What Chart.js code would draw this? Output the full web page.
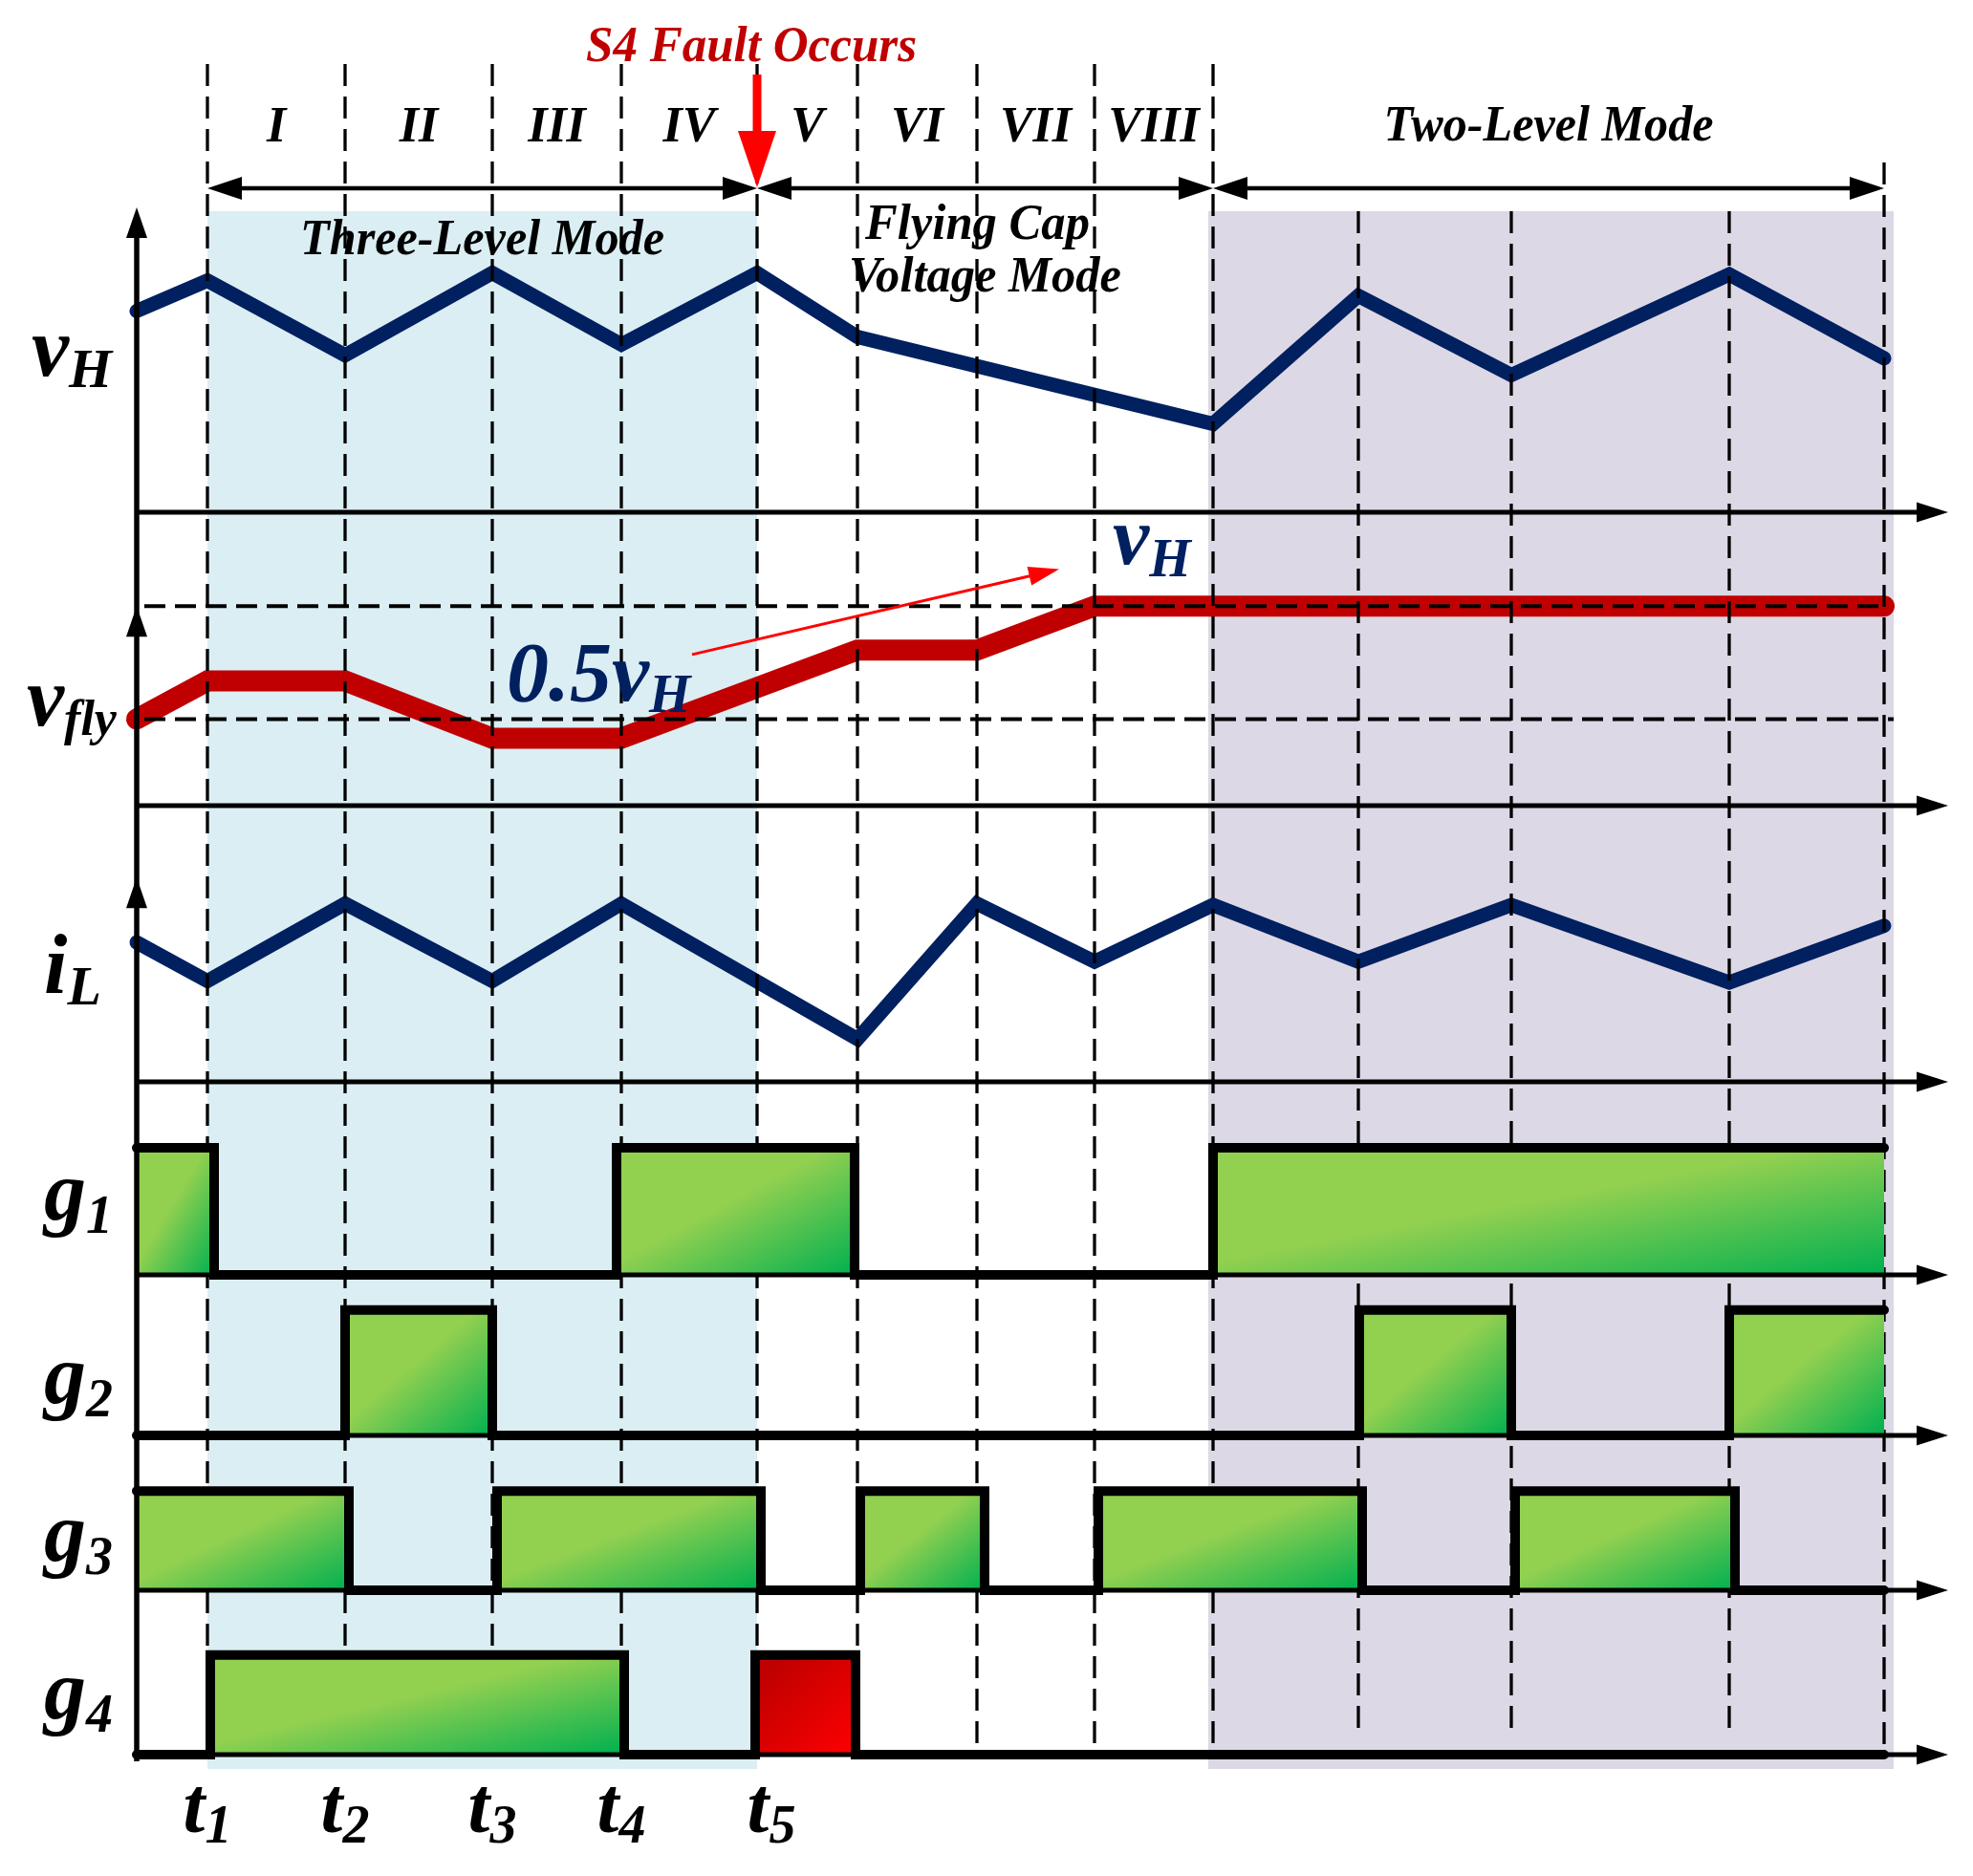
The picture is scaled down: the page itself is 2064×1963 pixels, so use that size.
<!DOCTYPE html>
<html>
<head>
<meta charset="utf-8">
<title>S4 fault timing diagram</title>
<script src="https://cdn.jsdelivr.net/npm/chart.js@4.4.1/dist/chart.umd.min.js"></script>
<style>
  html, body { margin: 0; padding: 0; background: #fff; }
  #wrap { width: 2064px; height: 1963px; }
</style>
</head>
<body>
<div id="wrap"><canvas id="diagram" width="2064" height="1963"></canvas></div>
<script>
// Time axis: t1..t5, then the stage boundaries of the flying cap and two-level modes
const boundaryTimes = [0.74, 2.18, 3.72, 5.07, 6.49, 7.54, 8.79, 10.02, 11.26, 12.78, 14.38, 16.66, 18.28];
const timeLabels = ['1', '2', '3', '4', '5'];
const stageLabels = ['I', 'II', 'III', 'IV', 'V', 'VI', 'VII', 'VIII'];
const rowLabels = [['v', 'H'], ['v', 'fly'], ['i', 'L'], ['g', '1'], ['g', '2'], ['g', '3'], ['g', '4']];

// v_H
const vHTimes = [0, 0.74, 2.18, 3.72, 5.07, 6.49, 7.54, 11.26, 12.78, 14.38, 16.66, 18.28];
const vHValues = [6.6, 7.6, 5.15, 7.85, 5.5, 7.85, 5.75, 2.9, 7.1, 4.5, 7.8, 5.05];

// v_fly and its two reference levels (v_H, 0.5 v_H)
const vFlyTimes = [0, 0.74, 2.18, 3.72, 5.07, 7.54, 8.79, 10.02, 18.28];
const vFlyValues = [2.95, 4.25, 4.25, 2.3, 2.3, 5.3, 5.3, 6.8, 6.8];
const vFlyLevels = [6.8, 2.95];

// i_L
const iLTimes = [0, 0.74, 2.18, 3.72, 5.07, 7.54, 8.79, 10.02, 11.26, 12.78, 14.38, 16.66, 18.28];
const iLValues = [5.05, 3.65, 6.45, 3.65, 6.45, 1.55, 6.45, 4.35, 6.4, 4.35, 6.4, 3.6, 5.65];

// gate signals, [on, off]
const g1Pulses = [[0, 0.81], [5.02, 7.51], [11.26, 18.28]];
const g2Pulses = [[2.18, 3.72], [12.79, 14.38], [16.66, 18.28]];
const g3Pulses = [[0, 2.22], [3.77, 6.53], [7.57, 8.87], [10.06, 12.82], [14.42, 16.72]];
const g4Pulses = [[0.77, 5.10]];
const g4FaultPulses = [[6.47, 7.52]];
const gateEnd = 18.28;

const NAVY = '#002060';
const GREEN = ['#92D050', '#00B050'];
const RED = ['#C00000', '#FF0000'];

function font(size) {
  return 'bold italic ' + size + 'px "Liberation Serif", "Times New Roman", serif';
}

function toPoints(times, values) {
  return times.map((t, i) => ({ x: t, y: values[i] }));
}

// black outline of a gate signal
function gateWave(pulses) {
  const all = pulses.slice().sort((a, b) => a[0] - b[0]);
  const pts = [];
  if (all[0][0] > 0) pts.push({ x: 0, y: 0 });
  all.forEach(([on, off]) => {
    if (on > 0) pts.push({ x: on, y: 0 });
    pts.push({ x: on, y: 1 });
    pts.push({ x: off, y: 1 });
    if (off < gateEnd) pts.push({ x: off, y: 0 });
  });
  if (all[all.length - 1][1] < gateEnd) pts.push({ x: gateEnd, y: 0 });
  return pts;
}

// one gradient per pulse, light at top-left, dark at bottom-right
function pulseFill(colors, midStop) {
  return (c) => {
    const chart = c.chart, ds = c.dataset;
    if (!chart.chartArea || !ds) return colors[0];
    const xs = chart.scales.x, ys = chart.scales[ds.yAxisID];
    const x0 = xs.getPixelForValue(ds.data[0].x), x1 = xs.getPixelForValue(ds.data[2].x);
    const yTop = ys.getPixelForValue(1), yBot = ys.getPixelForValue(0);
    const w = x1 - x0, h = yBot - yTop, k = 2 * w * h / (w * w + h * h);
    const g = chart.ctx.createLinearGradient(x0, yTop, x0 + h * k, yTop + w * k);
    g.addColorStop(0, colors[0]);
    g.addColorStop(midStop, colors[0]);
    g.addColorStop(1, colors[1]);
    return g;
  };
}

const datasets = [
  { label: 'vH', data: toPoints(vHTimes, vHValues), yAxisID: 'yVH', borderColor: NAVY, borderWidth: 15, order: 42 },
  { label: 'vfly', data: toPoints(vFlyTimes, vFlyValues), yAxisID: 'yFly', borderColor: '#C00000', borderWidth: 22, order: 43 },
  { label: 'iL', data: toPoints(iLTimes, iLValues), yAxisID: 'yIL', borderColor: NAVY, borderWidth: 15, order: 41 }
];

const gates = [
  { id: 'yG1', pulses: g1Pulses, faults: [] },
  { id: 'yG2', pulses: g2Pulses, faults: [] },
  { id: 'yG3', pulses: g3Pulses, faults: [] },
  { id: 'yG4', pulses: g4Pulses, faults: g4FaultPulses }
];

gates.forEach((g) => {
  const addFill = (p, colors, stop) => datasets.push({
    label: 'fill', yAxisID: g.id, order: 20, fill: 'origin', borderWidth: 0, borderColor: 'rgba(0,0,0,0)',
    data: [{ x: p[0], y: 0 }, { x: p[0], y: 1 }, { x: p[1], y: 1 }, { x: p[1], y: 0 }],
    backgroundColor: pulseFill(colors, stop)
  });
  g.pulses.forEach((p) => addFill(p, GREEN, 0.45));
  g.faults.forEach((p) => addFill(p, RED, 0.15));
  datasets.push({
    label: 'gate', yAxisID: g.id, order: 10, borderColor: '#000', borderWidth: 10,
    data: gateWave(g.pulses.concat(g.faults))
  });
});

function arrowHead(ctx, x, y, angle, len, width, color) {
  ctx.save();
  ctx.translate(x, y);
  ctx.rotate(angle);
  ctx.beginPath();
  ctx.moveTo(0, 0);
  ctx.lineTo(-len, -width / 2);
  ctx.lineTo(-len, width / 2);
  ctx.closePath();
  ctx.fillStyle = color;
  ctx.fill();
  ctx.restore();
}

function fitText(ctx, text, cx, baseline, size, color, width) {
  ctx.save();
  ctx.font = font(size);
  ctx.fillStyle = color;
  ctx.textAlign = 'center';
  ctx.textBaseline = 'alphabetic';
  const natural = ctx.measureText(text).width;
  ctx.translate(cx, baseline);
  ctx.scale(width ? width / natural : 1, 1);
  ctx.fillText(text, 0, 0);
  ctx.restore();
}

function subText(ctx, main, sub, x, baseline, mainSize, subSize, drop, color) {
  ctx.save();
  ctx.fillStyle = color;
  ctx.textAlign = 'left';
  ctx.textBaseline = 'alphabetic';
  ctx.font = font(mainSize);
  ctx.fillText(main, x, baseline);
  const w = ctx.measureText(main).width;
  ctx.font = font(subSize);
  ctx.fillText(sub, x + w, baseline + drop);
  ctx.restore();
}

function subWidth(ctx, main, sub, mainSize, subSize) {
  ctx.save();
  ctx.font = font(mainSize);
  let w = ctx.measureText(main).width;
  ctx.font = font(subSize);
  w += ctx.measureText(sub).width;
  ctx.restore();
  return w;
}

function drawGuides(chart) {
  const { ctx } = chart;
  const xs = chart.scales.x;
  const yBottom = chart.scales.yG4.getPixelForValue(0);
  ctx.save();
  ctx.strokeStyle = '#000';
  ctx.lineWidth = 3.3;
  ctx.setLineDash([23, 11]);
  boundaryTimes.forEach((t, i) => {
    const x = Math.round(xs.getPixelForValue(t));
    let top = 67, bottom = yBottom;
    if (i >= 9 && i <= 11) { top = 221; bottom = yBottom - 21; }
    if (i === 12) top = 170;
    ctx.beginPath();
    ctx.moveTo(x, top);
    ctx.lineTo(x, bottom);
    ctx.stroke();
  });
  const yf = chart.scales.yFly;
  ctx.lineWidth = 4;
  ctx.setLineDash([22, 10]);
  vFlyLevels.forEach((v, i) => {
    const y = yf.getPixelForValue(v);
    ctx.beginPath();
    ctx.moveTo(xs.getPixelForValue(0) + 8, y);
    ctx.lineTo(xs.getPixelForValue(gateEnd) + i * 10, y);
    ctx.stroke();
  });
  ctx.restore();
}

function drawAxes(chart) {
  const { ctx } = chart;
  const xs = chart.scales.x;
  const x0 = xs.getPixelForValue(0), xTip = xs.right;
  ctx.save();
  ctx.strokeStyle = '#000';
  ctx.lineWidth = 5;
  ['yVH', 'yFly', 'yIL', 'yG1', 'yG2', 'yG3', 'yG4'].forEach((id) => {
    const y = chart.scales[id].getPixelForValue(0);
    ctx.beginPath();
    ctx.moveTo(x0, y);
    ctx.lineTo(xTip - 25, y);
    ctx.stroke();
    arrowHead(ctx, xTip, y, 0, 33, 21, '#000');
  });
  const tops = [
    chart.scales.yVH.getPixelForValue(10),
    chart.scales.yFly.getPixelForValue(vFlyLevels[0]),
    chart.scales.yIL.getPixelForValue(7.4)
  ];
  ctx.lineWidth = 5.5;
  ctx.beginPath();
  ctx.moveTo(x0, chart.scales.yG4.getPixelForValue(0) + 7);
  ctx.lineTo(x0, tops[0] + 20);
  ctx.stroke();
  tops.forEach((y) => arrowHead(ctx, x0, y, -Math.PI / 2, 32, 22, '#000'));
  ctx.restore();
}

function drawTexts(chart) {
  const { ctx } = chart;
  const xs = chart.scales.x;
  const bt = boundaryTimes;
  const px = (t) => xs.getPixelForValue(t);

  // fault marker
  fitText(ctx, 'S4 Fault Occurs', px(bt[4]) - 6, 64, 52, '#C00000', 346);
  ctx.save();
  ctx.fillStyle = '#FF0000';
  ctx.fillRect(px(bt[4]) - 4.5, 78, 9, 64);
  ctx.restore();
  arrowHead(ctx, px(bt[4]), 196, Math.PI / 2, 59, 40, '#FF0000');

  // stage numerals
  stageLabels.forEach((s, i) => fitText(ctx, s, (px(bt[i]) + px(bt[i + 1])) / 2, 148, 52, '#000'));
  fitText(ctx, 'Two-Level Mode', (px(bt[8]) + px(bt[12])) / 2, 147, 52, '#000', 345);

  // mode spans
  const yArrow = 197;
  ctx.save();
  ctx.strokeStyle = '#000';
  ctx.lineWidth = 4.5;
  [[bt[0], bt[4]], [bt[4], bt[8]], [bt[8], bt[12]]].forEach(([a, b]) => {
    ctx.beginPath();
    ctx.moveTo(px(a) + 20, yArrow);
    ctx.lineTo(px(b) - 20, yArrow);
    ctx.stroke();
    arrowHead(ctx, px(a), yArrow, Math.PI, 36, 24, '#000');
    arrowHead(ctx, px(b), yArrow, 0, 36, 24, '#000');
  });
  ctx.restore();
  fitText(ctx, 'Three-Level Mode', (px(bt[0]) + px(bt[4])) / 2, 266, 52, '#000', 381);
  fitText(ctx, 'Flying Cap', (px(bt[4]) + px(bt[8])) / 2 - 8, 250, 52, '#000', 235);
  fitText(ctx, 'Voltage Mode', (px(bt[4]) + px(bt[8])) / 2, 305, 52, '#000', 285);

  // row labels
  const spots = [[33, 393, 58, 12], [28, 759, 52, 10], [46, 1039, 58, 12],
                 [46, 1276, 56, 14], [46, 1468, 56, 14], [46, 1633, 56, 14], [46, 1798, 56, 14]];
  rowLabels.forEach((l, i) => {
    const s = spots[i];
    subText(ctx, l[0], l[1], s[0], s[1], 88, s[2], s[3], '#000');
  });

  // time instants
  timeLabels.forEach((n, i) => {
    const w = subWidth(ctx, 't', n, 82, 56);
    const shift = i === 4 ? 15 : 0;
    subText(ctx, 't', n, px(bt[i]) - w / 2 + shift, 1917, 82, 56, 11, '#000');
  });

  // v_fly annotations
  const yf = chart.scales.yFly;
  subText(ctx, '0.5v', 'H', px(3.87), yf.getPixelForValue(3.58), 88, 56, 12, NAVY);
  subText(ctx, 'v', 'H', px(10.21), yf.getPixelForValue(8.24), 86, 56, 13, NAVY);
  const ax = px(5.81), ay = yf.getPixelForValue(5.15);
  const bx = px(9.65), by = yf.getPixelForValue(8.06);
  const ang = Math.atan2(by - ay, bx - ax);
  ctx.save();
  ctx.strokeStyle = '#FF0000';
  ctx.lineWidth = 3;
  ctx.beginPath();
  ctx.moveTo(ax, ay);
  ctx.lineTo(bx - 25 * Math.cos(ang), by - 25 * Math.sin(ang));
  ctx.stroke();
  ctx.restore();
  arrowHead(ctx, bx, by, ang, 32, 20, '#FF0000');
}

const diagramPlugin = {
  id: 'diagram',
  beforeDatasetsDraw(chart) {
    const { ctx } = chart;
    const xs = chart.scales.x;
    const bt = boundaryTimes;
    ctx.save();
    ctx.fillStyle = '#DAEEF3';
    const b0 = xs.getPixelForValue(bt[0]), b1 = xs.getPixelForValue(bt[4]);
    ctx.fillRect(b0, 221, b1 - b0, 1630);
    ctx.fillStyle = '#DDD8E5';
    const p0 = xs.getPixelForValue(bt[8]) - 5, p1 = xs.getPixelForValue(bt[12]) + 10;
    ctx.fillRect(p0, 221, p1 - p0, 1630);
    ctx.restore();
  },
  afterDatasetDraw(chart, args) {
    if (chart.data.datasets[args.index].label === 'iL') drawGuides(chart);
  },
  afterDatasetsDraw(chart) {
    drawAxes(chart);
  },
  afterDraw(chart) {
    drawTexts(chart);
  }
};

function rowScale(weight, max) {
  return { type: 'linear', position: 'right', stack: 'rows', stackWeight: weight, min: 0, max: max, display: false };
}

new Chart(document.getElementById('diagram'), {
  type: 'line',
  data: { datasets: datasets },
  options: {
    responsive: false,
    animation: false,
    devicePixelRatio: 1,
    events: [],
    layout: { padding: { left: 143, right: 26, top: 217, bottom: 127 } },
    plugins: { legend: { display: false }, tooltip: { enabled: false } },
    elements: {
      point: { radius: 0 },
      line: { tension: 0, borderCapStyle: 'round', borderJoinStyle: 'miter', fill: false }
    },
    datasets: { line: { clip: false } },
    scales: {
      x: { type: 'linear', min: 0, max: 18.95, display: false },
      yVH: rowScale(319, 10),
      yFly: rowScale(307, 10),
      yIL: rowScale(289, 10),
      yG1: rowScale(202, 1.52),
      yG2: rowScale(168, 1.28),
      yG3: rowScale(162, 1.56),
      yG4: rowScale(172, 1.65)
    }
  },
  plugins: [diagramPlugin]
});
</script>
</body>
</html>
